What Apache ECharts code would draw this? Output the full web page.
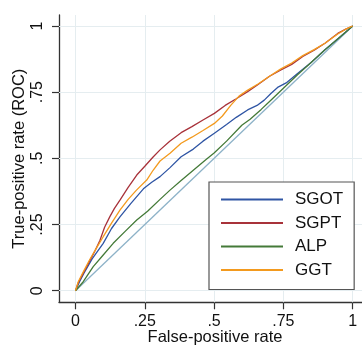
<!DOCTYPE html>
<html>
<head>
<meta charset="utf-8">
<script src="https://cdn.jsdelivr.net/npm/echarts@6/dist/echarts.min.js"></script>
<style>
html,body{margin:0;padding:0;background:#fff;}
#chart{width:362px;height:347px;}
</style>
</head>
<body>
<div id="chart"></div>
<script>
const tickValues = [0, 0.25, 0.5, 0.75, 1];
const tickLabels = ['0', '.25', '.5', '.75', '1'];
const seriesNames = ['SGOT', 'SGPT', 'ALP', 'GGT'];
const seriesColors = ['#2f55a4', '#a8323a', '#447a38', '#f39a1e'];

const sgot = [[0,0],[0.015,0.035],[0.03,0.065],[0.06,0.12],[0.1,0.179],[0.13,0.235],[0.161,0.28],[0.2,0.33],[0.245,0.385],[0.275,0.41],[0.305,0.431],[0.341,0.465],[0.381,0.506],[0.425,0.535],[0.46,0.565],[0.501,0.595],[0.545,0.628],[0.58,0.655],[0.621,0.683],[0.655,0.70],[0.681,0.72],[0.705,0.745],[0.729,0.768],[0.76,0.785],[0.80,0.82],[0.85,0.862],[0.9,0.91],[0.95,0.955],[1,1]];
const sgpt = [[0,0],[0.01,0.03],[0.028,0.066],[0.05,0.11],[0.07,0.15],[0.088,0.19],[0.105,0.24],[0.124,0.28],[0.14,0.31],[0.161,0.343],[0.19,0.39],[0.221,0.437],[0.25,0.47],[0.28,0.505],[0.305,0.532],[0.34,0.565],[0.381,0.597],[0.42,0.62],[0.46,0.645],[0.501,0.67],[0.54,0.70],[0.58,0.725],[0.621,0.752],[0.66,0.78],[0.70,0.81],[0.741,0.834],[0.78,0.855],[0.82,0.885],[0.861,0.909],[0.90,0.935],[0.946,0.972],[0.975,0.988],[1,1]];
const alp = [[0,0],[0.028,0.034],[0.064,0.091],[0.1,0.135],[0.136,0.179],[0.18,0.225],[0.221,0.267],[0.26,0.30],[0.305,0.345],[0.341,0.38],[0.38,0.415],[0.425,0.455],[0.47,0.495],[0.5,0.52],[0.545,0.565],[0.6,0.625],[0.63,0.648],[0.67,0.685],[0.7,0.715],[0.75,0.765],[0.8,0.815],[0.85,0.862],[0.9,0.91],[0.95,0.955],[1,1]];
const ggt = [[0,0],[0.01,0.034],[0.03,0.075],[0.05,0.115],[0.075,0.16],[0.1,0.204],[0.13,0.255],[0.161,0.305],[0.19,0.345],[0.22,0.38],[0.257,0.418],[0.28,0.455],[0.305,0.49],[0.341,0.519],[0.381,0.557],[0.42,0.58],[0.46,0.605],[0.501,0.632],[0.53,0.66],[0.56,0.70],[0.59,0.735],[0.62,0.757],[0.66,0.782],[0.70,0.81],[0.741,0.838],[0.78,0.86],[0.82,0.888],[0.861,0.911],[0.90,0.935],[0.946,0.97],[0.975,0.988],[1,1]];
const reference = [[0,0],[1,1]];

const FONT = '"Liberation Sans", Arial, Helvetica, sans-serif';
const chart = echarts.init(document.getElementById('chart'), null, {renderer: 'canvas'});
const labelFor = v => {
  const i = tickValues.findIndex(t => Math.abs(t - v) < 1e-9);
  return i >= 0 ? tickLabels[i] : '';
};
const gridLineData = tickValues.map(v => ({xAxis: v})).concat(tickValues.map(v => ({yAxis: v})));

const lineSeries = [sgot, sgpt, alp, ggt].map((d, i) => ({
  name: seriesNames[i],
  type: 'line',
  data: d,
  showSymbol: false,
  symbol: 'none',
  lineStyle: {color: seriesColors[i], width: 1.3},
  itemStyle: {color: seriesColors[i]},
  z: 3,
  silent: true
}));

chart.setOption({
  animation: false,
  backgroundColor: '#fff',
  grid: {left: 59, right: 0, top: 15, bottom: 44.7, containLabel: false, outerBoundsMode: 'none'},
  xAxis: {
    type: 'value', min: -0.0595, max: 1.0336,
    name: 'False-positive rate', nameLocation: 'middle', nameGap: 27, nameMoveOverlap: false,
    nameTextStyle: {fontFamily: FONT, fontSize: 16.5, color: '#111', padding: [0, 0, 0, 9]},
    axisLine: {show: true, onZero: false, lineStyle: {color: '#333', width: 1.3}},
    axisTick: {show: true, length: 7, customValues: tickValues, lineStyle: {color: '#333', width: 1.2}},
    axisLabel: {customValues: tickValues, formatter: labelFor, margin: 11, fontFamily: FONT, fontSize: 16, color: '#111'},
    splitLine: {show: false}
  },
  yAxis: {
    type: 'value', min: -0.0438, max: 1.0416,
    name: 'True-positive rate (ROC)', nameLocation: 'middle', nameGap: 31, nameMoveOverlap: false,
    nameTextStyle: {fontFamily: FONT, fontSize: 16.5, color: '#111'},
    axisLine: {show: true, onZero: false, lineStyle: {color: '#333', width: 1.3}},
    axisTick: {show: true, length: 7, customValues: tickValues, lineStyle: {color: '#333', width: 1.2}},
    axisLabel: {customValues: tickValues, formatter: labelFor, rotate: 90, margin: 13, fontFamily: FONT, fontSize: 16, color: '#111'},
    splitLine: {show: false}
  },
  legend: {
    data: seriesNames,
    orient: 'vertical',
    left: 209, top: 182,
    padding: [9, 11, 11, 12],
    itemWidth: 62, itemHeight: 2, itemGap: 6.5,
    icon: 'rect',
    backgroundColor: '#fff',
    borderColor: '#555', borderWidth: 1.2,
    textStyle: {fontFamily: FONT, fontSize: 17, lineHeight: 17, color: '#111', padding: [0, 0, 0, 7]}
  },
  series: [
    {
      name: 'reference', type: 'line', data: reference, showSymbol: false, symbol: 'none',
      lineStyle: {color: '#8db2c8', width: 1.3}, z: 2, silent: true,
      markLine: {
        silent: true, symbol: 'none', z: 1, animation: false,
        label: {show: false},
        lineStyle: {color: '#e5edf0', width: 1, type: 'solid'},
        emphasis: {disabled: true},
        data: gridLineData
      }
    }
  ].concat(lineSeries)
});
</script>
</body>
</html>
